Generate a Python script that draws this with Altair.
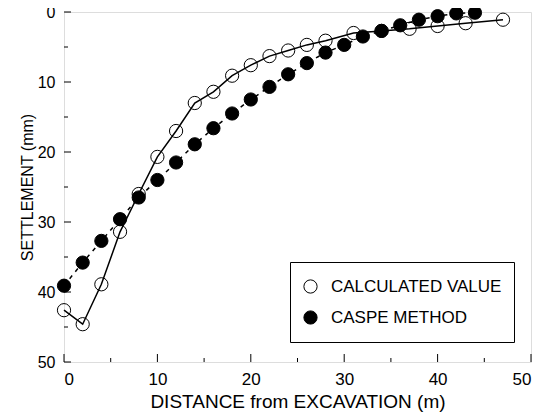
import altair as alt
import pandas as pd

# Data
calc_x = [0, 2, 4, 6, 8, 10, 12, 14, 16, 18, 20, 22, 24, 26, 28, 31, 34, 37, 40, 43, 47]
calc_y = [42.6, 44.6, 38.9, 31.4, 26.0, 20.7, 17.0, 13.0, 11.4, 9.1, 7.6, 6.3, 5.5, 4.7, 4.1, 3.0, 2.7, 2.4, 2.0, 1.6, 1.1]

caspe_x = [0, 2, 4, 6, 8, 10, 12, 14, 16, 18, 20, 22, 24, 26, 28, 30, 32, 34, 36, 38, 40, 42, 44]
caspe_y = [39.1, 35.8, 32.7, 29.6, 26.5, 24.0, 21.5, 18.9, 16.6, 14.5, 12.5, 10.7, 8.9, 7.3, 5.8, 4.7, 3.5, 2.7, 1.9, 1.1, 0.6, 0.2, 0.1]

series_names = ["CALCULATED VALUE", "CASPE METHOD"]
major_ticks = [0, 10, 20, 30, 40, 50]
minor_ticks = [5, 15, 25, 35, 45]

df = pd.concat([
    pd.DataFrame({"x": calc_x, "y": calc_y, "series": series_names[0]}),
    pd.DataFrame({"x": caspe_x, "y": caspe_y, "series": series_names[1]}),
], ignore_index=True)

W, H = 467, 350
FONT = "Liberation Sans"

xscale = alt.Scale(domain=[0, 50], nice=False, zero=False)
yscale = alt.Scale(domain=[0, 50], nice=False, zero=False, reverse=True)

xenc = alt.X("x:Q", scale=xscale, axis=alt.Axis(
    title="DISTANCE from EXCAVATION (m)", values=major_ticks, format="d",
    tickSize=0, domain=False, grid=False, labelPadding=9,
    labelFontSize=17, titleFontSize=19, titleFontWeight="normal",
    labelColor="black", titleColor="black", titlePadding=5,
    labelFont=FONT, titleFont=FONT))
yenc = alt.Y("y:Q", scale=yscale, axis=alt.Axis(
    title="SETTLEMENT (mm)", values=major_ticks, format="d",
    tickSize=0, domain=False, grid=False, labelPadding=9,
    labelFontSize=16, titleFontSize=16, titleFontWeight="normal",
    labelColor="black", titleColor="black", titleX=-37, titleBaseline="middle",
    labelFont=FONT, titleFont=FONT))

base = alt.Chart(df)

line_calc = base.transform_filter(alt.datum.series == series_names[0]).mark_line(
    color="black", strokeWidth=1.5).encode(x=xenc, y=yenc)
line_caspe = base.transform_filter(alt.datum.series == series_names[1]).mark_line(
    color="black", strokeWidth=1.5, strokeDash=[4, 5]).encode(x=xenc, y=yenc)

points = base.mark_point(shape="circle", size=175, stroke="black", strokeWidth=1,
                         opacity=1, filled=False).encode(
    x=xenc, y=yenc,
    fill=alt.Fill("series:N", scale=alt.Scale(domain=series_names, range=["transparent", "black"]),
                  legend=alt.Legend(title=None, orient="none", legendX=226, legendY=250,
                                    strokeColor="black", padding=12, fillColor="white",
                                    labelFontSize=17, labelFont=FONT, labelColor="black",
                                    symbolSize=175, symbolStrokeColor="black",
                                    symbolStrokeWidth=1, symbolType="circle",
                                    clipHeight=25, rowPadding=6, labelOffset=12, labelLimit=400)),
    order=alt.Order("series:N"),
)

xt_major = alt.Chart(pd.DataFrame({"t": major_ticks})).mark_rule(color="black").encode(
    x=alt.X("t:Q", scale=xscale), y=alt.value(H), y2=alt.value(H - 8))
xt_minor = alt.Chart(pd.DataFrame({"t": minor_ticks})).mark_rule(color="black").encode(
    x=alt.X("t:Q", scale=xscale), y=alt.value(H), y2=alt.value(H - 4))
yt_major = alt.Chart(pd.DataFrame({"t": major_ticks})).mark_rule(color="black").encode(
    y=alt.Y("t:Q", scale=yscale), x=alt.value(0), x2=alt.value(7))
yt_minor = alt.Chart(pd.DataFrame({"t": minor_ticks})).mark_rule(color="black").encode(
    y=alt.Y("t:Q", scale=yscale), x=alt.value(0), x2=alt.value(4))

chart = alt.layer(line_calc, line_caspe, points, xt_major, xt_minor, yt_major, yt_minor).properties(
    width=W, height=H,
    autosize=alt.AutoSizeParams(type="none"),
    padding={"left": 56, "top": 4, "right": 10, "bottom": 50},
).configure_view(stroke="black", strokeWidth=1.2).configure(background="white")

chart.save("out.html", embed_options={"renderer": "svg", "actions": False})
